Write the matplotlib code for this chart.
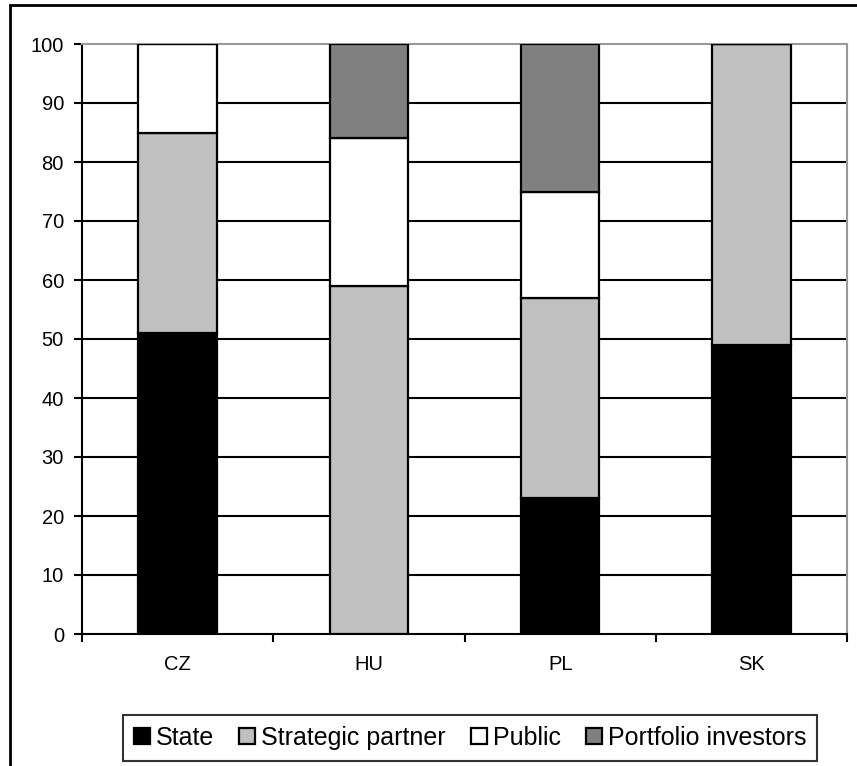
import matplotlib
matplotlib.use("Agg")
import matplotlib.pyplot as plt
from matplotlib.patches import Rectangle
import numpy as np

categories = ["CZ", "HU", "PL", "SK"]
state = [51, 0, 23, 49]
strategic = [34, 59, 34, 51]
public = [15, 25, 18, 0]
portfolio = [0, 16, 25, 0]
series_names = ["State", "Strategic partner", "Public", "Portfolio investors"]
colors = ["#000000", "#C0C0C0", "#FFFFFF", "#808080"]
yticks = list(range(0, 101, 10))

plt.rcParams['font.family'] = ['Liberation Sans', 'DejaVu Sans']

fig = plt.figure(figsize=(8.57, 7.66), dpi=100)
ax = fig.add_axes([82/857, 1-634/766, (847-82)/857, (634-44)/766])

x = np.arange(len(categories))
bottom = np.zeros(len(categories))
handles = []
for vals, name, col in zip([state, strategic, public, portfolio], series_names, colors):
    vals = np.array(vals, dtype=float)
    b = ax.bar(x, vals, width=0.41, bottom=bottom, color=col, edgecolor="black",
               linewidth=1.6, label=name, zorder=3)
    handles.append(b)
    bottom += vals

ax.set_xlim(-0.5, len(categories) - 0.5)
ax.set_ylim(0, 100)
ax.set_yticks(yticks)
ax.set_yticklabels([str(v) for v in yticks], fontsize=14.5)
ax.set_xticks(x)
ax.set_xticklabels(categories, fontsize=14.5)
ax.tick_params(axis="x", length=0, pad=15)
ax.set_xticks(np.arange(-0.5, len(categories), 1.0), minor=True)
ax.tick_params(axis="x", which="minor", length=6, width=1.5, direction="out")
ax.tick_params(axis="y", length=6, width=1.5, direction="out", pad=7)

for v in yticks[1:-1]:
    ax.axhline(v, color="black", linewidth=1.5, zorder=1)

ax.spines["left"].set_color("black")
ax.spines["left"].set_linewidth(1.5)
ax.spines["bottom"].set_color("black")
ax.spines["bottom"].set_linewidth(1.5)
ax.spines["top"].set_color("#999999")
ax.spines["top"].set_linewidth(1.5)
ax.spines["right"].set_color("#999999")
ax.spines["right"].set_linewidth(1.5)

leg = fig.legend(handles=handles, labels=series_names, loc="center",
                 bbox_to_anchor=(470/857, 1-738/766), ncol=4, fontsize=18,
                 frameon=True, fancybox=False, edgecolor="black",
                 handlelength=0.64, handleheight=0.6, handletextpad=0.24,
                 columnspacing=1.0, borderpad=0.45, borderaxespad=0)
leg.get_frame().set_linewidth(1.5)

border = Rectangle((10/857, -0.5), 2.0, 1.5 - 5/766, transform=fig.transFigure,
                   fill=False, edgecolor="black", linewidth=2)
fig.patches.append(border)

fig.savefig("out.png", dpi=100)
